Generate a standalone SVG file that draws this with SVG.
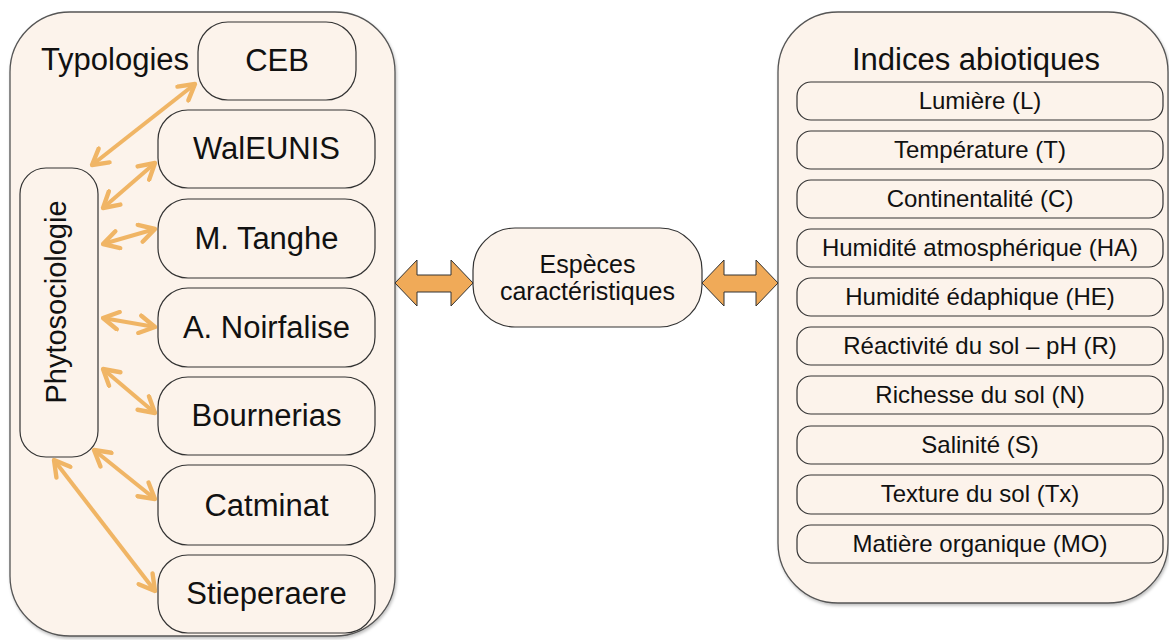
<svg xmlns="http://www.w3.org/2000/svg" width="1169" height="640" viewBox="0 0 1169 640">
<style>
  .outer{fill:#FCF3EB;stroke:#555;stroke-width:1.3}
  .box{fill:#FCF3EB;stroke:#333;stroke-width:1.2}
  .t{font-family:"Liberation Sans",Arial,sans-serif;fill:#111;text-anchor:middle}
  .big{font-size:31px}
  .mid{font-size:24px}
  .conn{stroke:#F0B565;stroke-width:4;fill:none;marker-start:url(#ah);marker-end:url(#ah)}
  .blk{fill:#F0AA58;stroke:#333;stroke-width:1}
</style>
<defs>
  <marker id="ah" viewBox="0 0 10 10" refX="9" refY="5" markerWidth="5.5" markerHeight="5.5" orient="auto-start-reverse" markerUnits="strokeWidth">
    <path d="M2,1 L9,5 L2,9" fill="none" stroke="#F0B565" stroke-width="2" stroke-linecap="round" stroke-linejoin="round"/>
  </marker>
  <filter id="sh" x="-5%" y="-5%" width="110%" height="110%">
    <feDropShadow dx="1" dy="2" stdDeviation="1.5" flood-color="#000" flood-opacity="0.25"/>
  </filter>
</defs>
<rect width="1169" height="640" fill="#fff"/>

<g id="typologies">
  <rect class="outer" x="10" y="12" width="385" height="624" rx="60" filter="url(#sh)"/>
  <text class="t big" x="115" y="70">Typologies</text>
</g>
<g id="indices">
  <rect class="outer" x="778" y="12" width="390" height="591" rx="60" filter="url(#sh)"/>
  <text class="t" x="976" y="70" font-size="31">Indices abiotiques</text>
</g>

<g id="ceb"><rect class="box" x="198" y="22" width="158" height="78" rx="30"/><text class="t big" x="277" y="71">CEB</text></g>
<g id="waleunis"><rect class="box" x="158" y="110" width="217" height="78" rx="30"/><text class="t big" x="266.5" y="159">WalEUNIS</text></g>
<g id="tanghe"><rect class="box" x="158" y="199" width="217" height="79" rx="30"/><text class="t big" x="266.5" y="249">M. Tanghe</text></g>
<g id="noirfalise"><rect class="box" x="158" y="288" width="217" height="79" rx="30"/><text class="t big" x="266.5" y="338">A. Noirfalise</text></g>
<g id="bournerias"><rect class="box" x="158" y="377" width="217" height="78" rx="30"/><text class="t big" x="266.5" y="426">Bournerias</text></g>
<g id="catminat"><rect class="box" x="158" y="465" width="217" height="80" rx="30"/><text class="t big" x="266.5" y="516">Catminat</text></g>
<g id="stieperaere"><rect class="box" x="158" y="555" width="217" height="78" rx="30"/><text class="t big" x="266.5" y="604">Stieperaere</text></g>

<g id="phyto">
  <rect class="box" x="20" y="168" width="78" height="289" rx="26"/>
  <text class="t" font-size="29" transform="translate(66,302) rotate(-90)">Phytosociologie</text>
</g>

<g id="especes">
  <rect class="box" x="473" y="228" width="229" height="99" rx="42"/>
  <text class="t" font-size="25" x="587.5" y="273">Espèces</text>
  <text class="t" font-size="25" x="587.5" y="300">caractéristiques</text>
</g>

<g id="l"><rect class="box" x="797" y="82" width="366" height="38" rx="14"/><text class="t mid" x="980" y="109">Lumière (L)</text></g>
<g id="temp"><rect class="box" x="797" y="131" width="366" height="38" rx="14"/><text class="t mid" x="980" y="158">Température (T)</text></g>
<g id="cont"><rect class="box" x="797" y="180" width="366" height="38" rx="14"/><text class="t mid" x="980" y="207">Continentalité (C)</text></g>
<g id="ha"><rect class="box" x="797" y="229" width="366" height="38" rx="14"/><text class="t mid" x="980" y="256">Humidité atmosphérique (HA)</text></g>
<g id="he"><rect class="box" x="797" y="278" width="366" height="38" rx="14"/><text class="t mid" x="980" y="305">Humidité édaphique (HE)</text></g>
<g id="r"><rect class="box" x="797" y="327" width="366" height="38" rx="14"/><text class="t mid" x="980" y="354">Réactivité du sol – pH (R)</text></g>
<g id="n"><rect class="box" x="797" y="376" width="366" height="38" rx="14"/><text class="t mid" x="980" y="403">Richesse du sol (N)</text></g>
<g id="s"><rect class="box" x="797" y="426" width="366" height="38" rx="14"/><text class="t mid" x="980" y="453">Salinité (S)</text></g>
<g id="tx"><rect class="box" x="797" y="475" width="366" height="39" rx="14"/><text class="t mid" x="980" y="502">Texture du sol (Tx)</text></g>
<g id="mo"><rect class="box" x="797" y="525" width="366" height="38" rx="14"/><text class="t mid" x="980" y="552">Matière organique (MO)</text></g>

<g id="connectors">
  <line class="conn" x1="92" y1="165" x2="195" y2="84"/>
  <line class="conn" x1="103" y1="208" x2="155" y2="163"/>
  <line class="conn" x1="103" y1="244" x2="155" y2="229"/>
  <line class="conn" x1="103" y1="318" x2="155" y2="327"/>
  <line class="conn" x1="103" y1="369" x2="155" y2="413"/>
  <line class="conn" x1="94" y1="450" x2="155" y2="499"/>
  <line class="conn" x1="54" y1="460" x2="155" y2="591"/>
  <path class="blk" d="M395,283 L417,260 L417,275 L451,275 L451,260 L473,283 L451,306 L451,292 L417,292 L417,306 Z"/>
  <path class="blk" d="M702,283 L724,260 L724,275 L756,275 L756,260 L778,283 L756,306 L756,292 L724,292 L724,306 Z"/>
</g>
</svg>
